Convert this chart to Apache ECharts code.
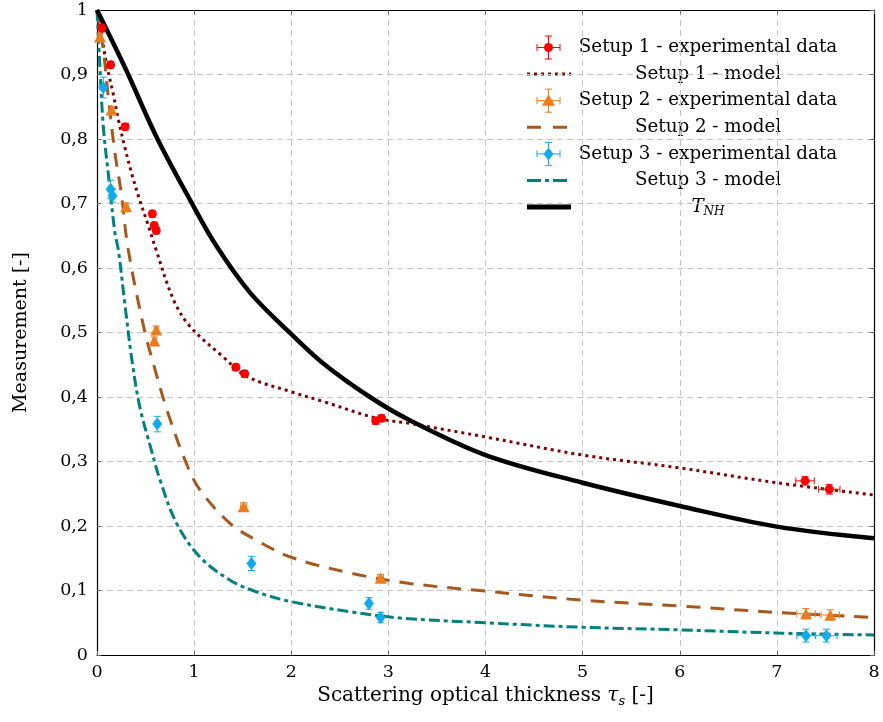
<!DOCTYPE html>
<html>
<head>
<meta charset="utf-8">
<script src="https://cdn.jsdelivr.net/npm/echarts@6/dist/echarts.min.js"></script>
<style>
  html, body { margin: 0; padding: 0; background: #ffffff; }
  #chart { width: 883px; height: 722px; }
</style>
</head>
<body>
<div id="chart"></div>
<script>
// ---- Measured points (tau_s, measurement) with x / y uncertainties ----
const setup1X    = [0.05, 0.14, 0.29, 0.57, 0.59, 0.61, 1.43, 1.52, 2.87, 2.93, 7.29, 7.54];
const setup1Y    = [0.972, 0.915, 0.819, 0.684, 0.666, 0.658, 0.446, 0.436, 0.363, 0.367, 0.270, 0.257];
const setup1XErr = [0.02, 0.02, 0.02, 0.02, 0.02, 0.02, 0.03, 0.03, 0.03, 0.03, 0.095, 0.11];
const setup1YErr = [0.006, 0.005, 0.005, 0.005, 0.005, 0.005, 0.005, 0.005, 0.005, 0.005, 0.0065, 0.0075];

const setup2X    = [0.03, 0.15, 0.30, 0.61, 0.59, 1.51, 2.92, 7.30, 7.55];
const setup2Y    = [0.958, 0.845, 0.695, 0.504, 0.487, 0.230, 0.119, 0.064, 0.062];
const setup2XErr = [0.02, 0.02, 0.02, 0.02, 0.02, 0.03, 0.03, 0.095, 0.095];
const setup2YErr = [0.006, 0.006, 0.006, 0.006, 0.006, 0.006, 0.006, 0.008, 0.008];

const setup3X    = [0.065, 0.14, 0.16, 0.62, 1.59, 2.80, 2.92, 7.30, 7.51];
const setup3Y    = [0.880, 0.722, 0.712, 0.358, 0.142, 0.080, 0.058, 0.030, 0.030];
const setup3XErr = [0.02, 0.02, 0.02, 0.02, 0.02, 0.02, 0.02, 0.095, 0.11];
const setup3YErr = [0.016, 0.014, 0.010, 0.012, 0.011, 0.009, 0.008, 0.010, 0.010];

// ---- Model curves ----
const model1X = [0, 0.03, 0.10, 0.17, 0.22, 0.29, 0.36, 0.44, 0.53, 0.60, 0.79, 0.96, 1.30, 1.54, 2.00, 2.33, 2.88, 3.22, 4, 5, 6, 7, 8];
const model1Y = [1, 0.975, 0.915, 0.868, 0.830, 0.785, 0.745, 0.705, 0.665, 0.632, 0.550, 0.509, 0.462, 0.432, 0.408, 0.393, 0.367, 0.359, 0.338, 0.310, 0.290, 0.267, 0.248];

const model2X = [0, 0.065, 0.12, 0.185, 0.25, 0.32, 0.48, 0.58, 0.72, 0.92, 1.06, 1.37, 1.64, 1.99, 2.61, 3.22, 4, 5, 6, 7, 8];
const model2Y = [1, 0.938, 0.860, 0.778, 0.716, 0.630, 0.509, 0.452, 0.380, 0.297, 0.256, 0.204, 0.178, 0.152, 0.127, 0.111, 0.099, 0.085, 0.076, 0.066, 0.058];

const model3X = [0, 0.03, 0.065, 0.12, 0.185, 0.22, 0.29, 0.36, 0.44, 0.55, 0.65, 0.82, 1.06, 1.37, 1.64, 1.99, 2.61, 3.15, 4, 5, 6, 7, 8];
const model3Y = [1, 0.912, 0.819, 0.741, 0.654, 0.628, 0.540, 0.457, 0.385, 0.323, 0.271, 0.204, 0.152, 0.116, 0.098, 0.083, 0.067, 0.057, 0.050, 0.043, 0.039, 0.034, 0.031];

const tnhX = [0, 0.30, 0.61, 0.96, 1.23, 1.58, 1.99, 2.33, 2.81, 3.22, 4, 5, 6, 7, 8];
const tnhY = [1, 0.907, 0.804, 0.705, 0.634, 0.561, 0.499, 0.452, 0.400, 0.364, 0.310, 0.267, 0.231, 0.199, 0.181];

// ---- Axis ticks and legend labels ----
const xTicks = [0, 1, 2, 3, 4, 5, 6, 7, 8];
const yTicks = [0, 0.1, 0.2, 0.3, 0.4, 0.5, 0.6, 0.7, 0.8, 0.9, 1];
const legendLabels = [
  'Setup 1 - experimental data',
  'Setup 1 - model',
  'Setup 2 - experimental data',
  'Setup 2 - model',
  'Setup 3 - experimental data',
  'Setup 3 - model',
  '{i|T}{s|NH}'
];

const FONT = "'DejaVu Serif', 'Liberation Serif', serif";
const C_RED = '#ff0000', C_DRED = '#800000';
const C_ORA = '#ef7b1c', C_BRN = '#a6581e';
const C_BLU = '#12aaee', C_TEAL = '#008080';

const pairs = (xs, ys) => xs.map((x, i) => [x, ys[i]]);
const errRows = (xs, ys, ex, ey) => xs.map((x, i) => [x, ys[i], ex[i], ey[i]]);

// Error bar glyph: horizontal + vertical whiskers with short caps
function errorBarSeries(name, rows, color) {
  return {
    type: 'custom',
    name: name + ' err',
    data: rows,
    z: 4,
    clip: false,
    renderItem: function (params, api) {
      const x = api.value(0), y = api.value(1), ex = api.value(2), ey = api.value(3);
      const l = api.coord([x - ex, y]), r = api.coord([x + ex, y]);
      const t = api.coord([x, y + ey]), b = api.coord([x, y - ey]);
      const cap = 3.5;
      const st = { stroke: color, lineWidth: 1 };
      const seg = (x1, y1, x2, y2) => ({ type: 'line', shape: { x1, y1, x2, y2 }, style: st });
      return {
        type: 'group',
        children: [
          seg(l[0], l[1], r[0], r[1]),
          seg(l[0], l[1] - cap, l[0], l[1] + cap),
          seg(r[0], r[1] - cap, r[0], r[1] + cap),
          seg(t[0], t[1], b[0], b[1]),
          seg(t[0] - cap, t[1], t[0] + cap, t[1]),
          seg(b[0] - cap, b[1], b[0] + cap, b[1])
        ]
      };
    }
  };
}

function markerSeries(name, xs, ys, symbol, size, color) {
  return {
    type: 'scatter', name, data: pairs(xs, ys),
    symbol, symbolSize: size, z: 5,
    itemStyle: { color: color, opacity: 1 },
    emphasis: { disabled: true }
  };
}

function modelSeries(name, xs, ys, color, width, dash) {
  return {
    type: 'line', name, data: pairs(xs, ys),
    smooth: 0.35, showSymbol: false, z: 3,
    lineStyle: { color, width, type: dash, cap: 'butt' },
    emphasis: { disabled: true }
  };
}

// ---- Legend drawn as graphic rows ----
function legendGraphics() {
  const out = [];
  const y0 = 47.5, step = 26.6, textX = 708;
  const icons = [
    { kind: 'err', color: C_RED, shape: 'circle' },
    { kind: 'line', color: C_DRED, width: 3, dash: [3, 4] },
    { kind: 'err', color: C_ORA, shape: 'triangle' },
    { kind: 'line', color: C_BRN, width: 3, dash: [14, 12] },
    { kind: 'err', color: C_BLU, shape: 'diamond' },
    { kind: 'line', color: C_TEAL, width: 3, dash: [14, 4, 4, 4] },
    { kind: 'line', color: '#000000', width: 5, dash: 'solid' }
  ];
  icons.forEach((ic, i) => {
    const y = y0 + i * step;
    if (ic.kind === 'line') {
      out.push({ type: 'line', shape: { x1: 527, y1: y, x2: 571, y2: y },
        style: { stroke: ic.color, lineWidth: ic.width, lineDash: ic.dash === 'solid' ? null : ic.dash, lineCap: 'butt' } });
    } else {
      const cx = 548.5, h = 11.5, cap = 3.5;
      const st = { stroke: ic.color, lineWidth: 1 };
      out.push({ type: 'line', shape: { x1: cx - h, y1: y, x2: cx + h, y2: y }, style: st });
      out.push({ type: 'line', shape: { x1: cx - h, y1: y - cap, x2: cx - h, y2: y + cap }, style: st });
      out.push({ type: 'line', shape: { x1: cx + h, y1: y - cap, x2: cx + h, y2: y + cap }, style: st });
      out.push({ type: 'line', shape: { x1: cx, y1: y - h, x2: cx, y2: y + h }, style: st });
      out.push({ type: 'line', shape: { x1: cx - cap, y1: y - h, x2: cx + cap, y2: y - h }, style: st });
      out.push({ type: 'line', shape: { x1: cx - cap, y1: y + h, x2: cx + cap, y2: y + h }, style: st });
      if (ic.shape === 'circle') {
        out.push({ type: 'circle', shape: { cx, cy: y, r: 4.5 }, style: { fill: ic.color } });
      } else if (ic.shape === 'triangle') {
        out.push({ type: 'polygon', shape: { points: [[cx, y - 6.5], [cx + 6.5, y + 5], [cx - 6.5, y + 5]] }, style: { fill: ic.color } });
      } else {
        out.push({ type: 'polygon', shape: { points: [[cx, y - 6.5], [cx + 5, y], [cx, y + 6.5], [cx - 5, y]] }, style: { fill: ic.color } });
      }
    }
    out.push({
      type: 'text', x: textX, y: y,
      style: {
        text: legendLabels[i], fill: '#000', align: 'center', verticalAlign: 'middle',
        font: '18.3px ' + FONT,
        rich: {
          i: { fontFamily: FONT, fontSize: 18.3, fontStyle: 'italic', lineHeight: 24, verticalAlign: 'middle' },
          s: { fontFamily: FONT, fontSize: 12, fontStyle: 'italic', lineHeight: 24, verticalAlign: 'bottom', padding: [0, 0, 1, 0] }
        }
      }
    });
  });
  return out;
}

const chart = echarts.init(document.getElementById('chart'), null, { renderer: 'canvas' });

const gridLine = { show: true, lineStyle: { color: '#c4c4c4', type: [6, 4], width: 1 } };
const tickIn = { show: true, inside: true, length: 4, lineStyle: { color: '#666', width: 1 } };
const frameLine = { show: true, onZero: false, lineStyle: { color: '#000', width: 1.2 } };

chart.setOption({
  animation: false,
  backgroundColor: '#ffffff',
  grid: { left: 97, right: 9, top: 10, bottom: 67, containLabel: false },
  xAxis: [
    {
      type: 'value', min: xTicks[0], max: xTicks[xTicks.length - 1], interval: 1,
      axisLine: frameLine, axisTick: tickIn, splitLine: gridLine,
      axisLabel: { color: '#000', fontFamily: FONT, fontSize: 17.5, margin: 8 },
      name: '{a|Scattering optical thickness }{i|τ}{s|s}{a| [-]}',
      nameLocation: 'middle', nameGap: 16,
      nameTextStyle: {
        color: '#000', fontFamily: FONT, fontSize: 20,
        rich: {
          a: { fontFamily: FONT, fontSize: 20, lineHeight: 24, verticalAlign: 'middle' },
          i: { fontFamily: FONT, fontSize: 20, fontStyle: 'italic', lineHeight: 24, verticalAlign: 'middle' },
          s: { fontFamily: FONT, fontSize: 13, fontStyle: 'italic', lineHeight: 24, verticalAlign: 'bottom', padding: [0, 0, 0, 0] }
        }
      }
    },
    {
      type: 'value', position: 'top', min: 0, max: 8, interval: 1,
      axisLine: frameLine, axisTick: tickIn, axisLabel: { show: false }, splitLine: { show: false }
    }
  ],
  yAxis: [
    {
      type: 'value', min: yTicks[0], max: yTicks[yTicks.length - 1], interval: 0.1,
      axisLine: frameLine, axisTick: tickIn, splitLine: gridLine,
      axisLabel: {
        color: '#000', fontFamily: FONT, fontSize: 17.5, margin: 9,
        formatter: v => (Math.abs(v) < 1e-9 ? '0' : Math.abs(v - 1) < 1e-9 ? '1' : v.toFixed(1).replace('.', ','))
      },
      name: 'Measurement [-]', nameLocation: 'middle', nameGap: 66, nameRotate: 90,
      nameTextStyle: { color: '#000', fontFamily: FONT, fontSize: 19 }
    },
    {
      type: 'value', position: 'right', min: 0, max: 1, interval: 0.1,
      axisLine: frameLine, axisTick: tickIn, axisLabel: { show: false }, splitLine: { show: false }
    }
  ],
  series: [
    modelSeries('Setup 1 - model', model1X, model1Y, C_DRED, 3, [3, 4]),
    modelSeries('Setup 2 - model', model2X, model2Y, C_BRN, 3, [14, 10]),
    modelSeries('Setup 3 - model', model3X, model3Y, C_TEAL, 3, [11, 4, 4, 4]),
    modelSeries('T_NH', tnhX, tnhY, '#000000', 4.5, 'solid'),
    errorBarSeries('Setup 1', errRows(setup1X, setup1Y, setup1XErr, setup1YErr), C_RED),
    errorBarSeries('Setup 2', errRows(setup2X, setup2Y, setup2XErr, setup2YErr), C_ORA),
    errorBarSeries('Setup 3', errRows(setup3X, setup3Y, setup3XErr, setup3YErr), C_BLU),
    markerSeries('Setup 1 - experimental data', setup1X, setup1Y, 'circle', 9, C_RED),
    markerSeries('Setup 2 - experimental data', setup2X, setup2Y, 'triangle', [12, 11], C_ORA),
    markerSeries('Setup 3 - experimental data', setup3X, setup3Y, 'diamond', [10, 13], C_BLU)
  ],
  graphic: legendGraphics()
});
</script>
</body>
</html>
